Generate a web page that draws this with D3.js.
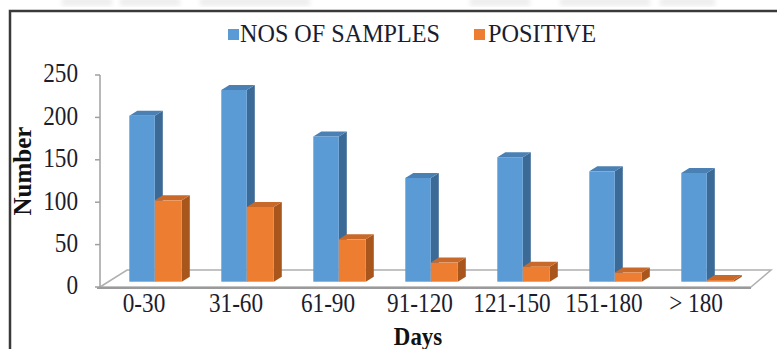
<!DOCTYPE html>
<html>
<head>
<meta charset="utf-8">
<script src="https://cdn.jsdelivr.net/npm/d3@7"></script>
<style>
  html, body { margin: 0; padding: 0; background: #fff; }
  svg { display: block; }
</style>
</head>
<body>
<svg id="chart" width="777" height="349"></svg>
<script>
const categories = ["0-30", "31-60", "61-90", "91-120", "121-150", "151-180", "> 180"];
const samples = [200, 231, 175, 125, 150, 133, 131];
const positive = [98, 90, 51, 23, 18, 11, 2];
const seriesNames = ["NOS OF SAMPLES", "POSITIVE"];
const yTicks = [0, 50, 100, 150, 200, 250];

const svg = d3.select("#chart");
const FONT = "'Liberation Serif', 'Times New Roman', serif";

// faint smudges at top (scan artifacts)
const defs = svg.append("defs");
defs.append("filter").attr("id", "blur").append("feGaussianBlur").attr("stdDeviation", 2);
[[62, 50], [120, 60], [200, 110], [470, 60], [560, 90], [660, 55]].forEach(([x, w]) => {
  svg.append("rect").attr("x", x).attr("y", -2).attr("width", w).attr("height", 8)
    .attr("fill", "#eeeeee").attr("filter", "url(#blur)");
});

// frame
svg.append("path").attr("d", "M10,349 V11 H777").attr("fill", "none")
  .attr("stroke", "#3a3a3a").attr("stroke-width", 2.5);

// scales
const x = d3.scaleBand().domain(categories).range([98, 742]).padding(0);
const yAxisScale = d3.scaleLinear().domain([0, 250]).range([287, 75]);
const yBar = d3.scaleLinear().domain([0, 250]).range([281.7, 281.7 - 250 * 0.83]);

// floor
const floorBackY = 270, floorFrontY = 287;
svg.append("path")
  .attr("d", `M100,${floorFrontY} L127,${floorBackY} L771,${floorBackY} L751,${floorFrontY} Z`)
  .attr("fill", "#fff").attr("stroke", "#b0b0b0").attr("stroke-width", 1.5);
svg.append("line").attr("x1", 97).attr("x2", 751).attr("y1", floorFrontY + 1).attr("y2", floorFrontY + 1)
  .attr("stroke", "#9a9a9a").attr("stroke-width", 2);

// vertical axis
svg.append("line").attr("x1", 100).attr("x2", 100).attr("y1", yAxisScale(250)).attr("y2", yAxisScale(0))
  .attr("stroke", "#a0a0a0").attr("stroke-width", 1.5);
yTicks.forEach(t => {
  svg.append("line").attr("x1", 95).attr("x2", 100).attr("y1", yAxisScale(t)).attr("y2", yAxisScale(t))
    .attr("stroke", "#a0a0a0").attr("stroke-width", 1.5);
  svg.append("text")
    .attr("transform", `translate(78,${yAxisScale(t) - 2}) scale(0.86,1)`)
    .attr("text-anchor", "end").attr("dy", "0.35em")
    .attr("font-family", FONT).attr("font-size", 27).attr("fill", "#1c1c2c")
    .text(t);
});

// bars (pseudo-3D)
const DX = 8, DY = -5;
const colors = [
  { front: "#5b9bd5", side: "#3b6a96", top: "#4a80b4" },
  { front: "#ed7d31", side: "#a9561d", top: "#c8692a" }
];
const offsets = [{ off: -14.7, w: 25.5 }, { off: 10.8, w: 27 }];

function drawBar(g, x0, w, v, c) {
  const y0 = yBar(0), y1 = yBar(v);
  g.append("path").attr("d", `M${x0 + w},${y1} L${x0 + w + DX},${y1 + DY} L${x0 + w + DX},${y0 + DY} L${x0 + w},${y0} Z`)
    .attr("fill", c.side);
  g.append("path").attr("d", `M${x0},${y1} L${x0 + DX},${y1 + DY} L${x0 + w + DX},${y1 + DY} L${x0 + w},${y1} Z`)
    .attr("fill", c.top);
  g.append("rect").attr("x", x0).attr("y", y1).attr("width", w).attr("height", y0 - y1).attr("fill", c.front);
}

const barsG = svg.append("g");
categories.forEach((cat, i) => {
  const cx = x(cat) + x.bandwidth() / 2;
  [samples[i], positive[i]].forEach((v, s) => {
    drawBar(barsG, cx + offsets[s].off, offsets[s].w, v, colors[s]);
  });
});

// x labels
categories.forEach(cat => {
  svg.append("text")
    .attr("transform", `translate(${x(cat) + x.bandwidth() / 2},312) scale(0.86,1)`)
    .attr("text-anchor", "middle")
    .attr("font-family", FONT).attr("font-size", 27).attr("fill", "#1c1c2c")
    .text(cat);
});

// axis titles
svg.append("text")
  .attr("transform", "translate(418,345) scale(0.88,1)")
  .attr("text-anchor", "middle").attr("font-family", FONT).attr("font-weight", "bold")
  .attr("font-size", 26).attr("fill", "#111")
  .text("Days");
svg.append("text")
  .attr("transform", "translate(31,171) rotate(-90)")
  .attr("text-anchor", "middle").attr("font-family", FONT).attr("font-weight", "bold")
  .attr("font-size", 25).attr("fill", "#111")
  .text("Number");

// legend
const legendItems = [
  { name: seriesNames[0], sx: 228, tx: 240, len: 200, color: colors[0].front },
  { name: seriesNames[1], sx: 474, tx: 488, len: 108, color: colors[1].front }
];
legendItems.forEach(d => {
  svg.append("rect").attr("x", d.sx).attr("y", 29).attr("width", 11).attr("height", 11).attr("fill", d.color);
  svg.append("text").attr("x", d.tx).attr("y", 42)
    .attr("font-family", FONT).attr("font-size", 26).attr("fill", "#1c1c30")
    .attr("textLength", d.len).attr("lengthAdjust", "spacingAndGlyphs")
    .text(d.name);
});
</script>
</body>
</html>
